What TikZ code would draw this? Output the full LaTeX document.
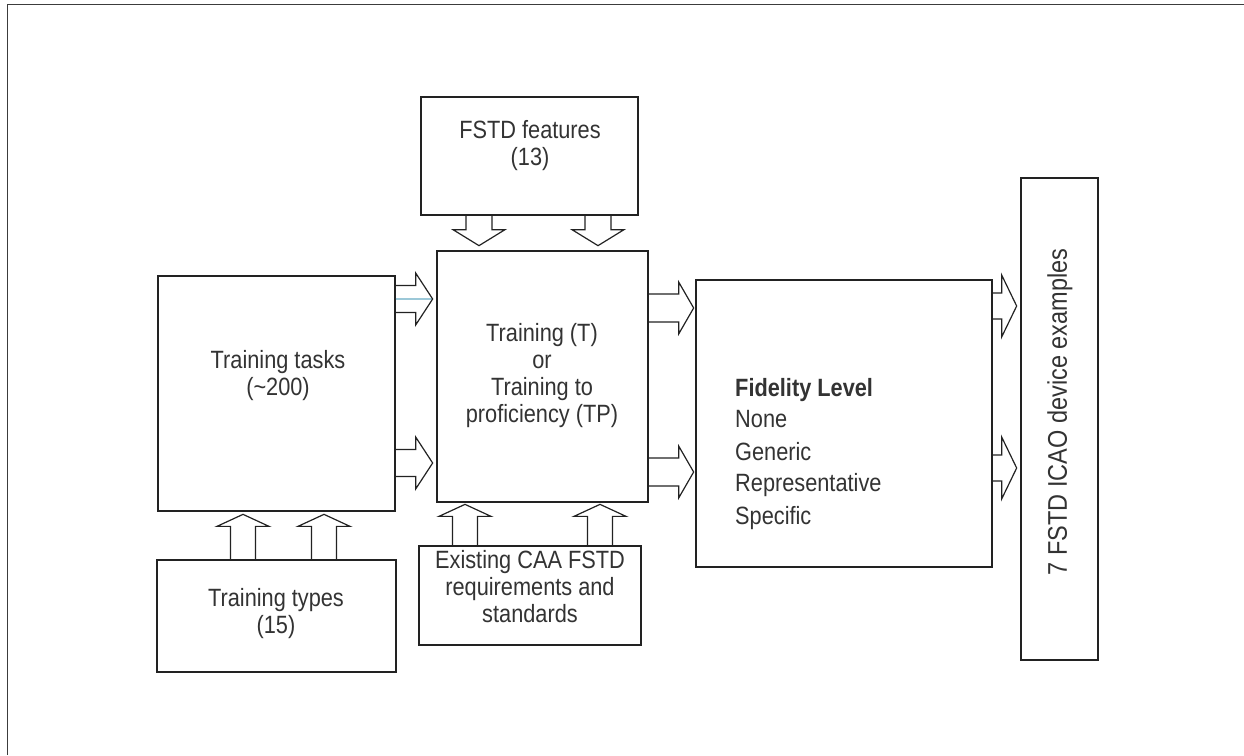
\documentclass[tikz,border=0pt]{standalone}
\usepackage{fontspec}
\setmainfont{Liberation Sans}[FakeStretch=0.87]
\usetikzlibrary{calc}

\definecolor{inkline}{HTML}{222222}
\definecolor{inktext}{HTML}{333333}
\definecolor{framegray}{HTML}{3C3C3C}
\definecolor{paleblue}{HTML}{9CC8D8}

\tikzset{
  box/.style={draw=inkline, line width=1.3pt, fill=white, inner sep=0pt},
  lbl/.style={text=inktext, align=center, inner sep=0pt,
              font=\fontsize{25}{27}\selectfont},
  item/.style={text=inktext, anchor=west, inner sep=0pt,
              font=\fontsize{25}{27}\selectfont},
  barrow/.style={draw=inkline, line width=1.2pt, line join=miter}
}

% hollow block arrow: base point, direction angle, length,
% shaft half-width, head half-width, head length
\newcommand{\blockarrow}[6]{%
  \draw[barrow, shift={(#1)}, rotate=#2]
    (0,#4) -- ({#3-#6},#4) -- ({#3-#6},#5) -- (#3,0)
    -- ({#3-#6},-#5) -- ({#3-#6},-#4) -- (0,-#4);}

\begin{document}
\begin{tikzpicture}[x=1pt, y=-1pt]
\useasboundingbox (0,0) rectangle (1244,755);

% page frame
\draw[framegray, line width=1.3pt] (7.5,755) -- (7.5,4.5) -- (1244,4.5);

% boxes
\node[box, minimum width=217pt, minimum height=118pt] (feat)  at (529.5,156) {};
\node[box, minimum width=211pt, minimum height=251pt] (tp)    at (542.5,376.5) {};
\node[box, minimum width=237pt, minimum height=235pt] (tasks) at (276.5,393.5) {};
\node[box, minimum width=296pt, minimum height=287pt] (fid)   at (844,423.5) {};
\node[box, minimum width=77pt,  minimum height=482pt] (ex)    at (1059.5,419) {};
\node[box, minimum width=239pt, minimum height=112pt] (types) at (276.5,616) {};
\node[box, minimum width=222pt, minimum height=99pt]  (caa)   at (530,595.5) {};

% texts
\node[lbl] (featT)  at (530,146) {FSTD features\\(13)};
\node[lbl] (tasksT) at (278,376) {Training tasks\\(\textasciitilde200)};
\node[lbl] (tpT)    at (542,376) {Training (T)\\or\\Training to\\proficiency (TP)};
\node[lbl] (typesT) at (276,614) {Training types\\(15)};
\node[lbl] (caaT)   at (530,587) {Existing CAA FSTD\\requirements and\\standards};
\node[lbl, rotate=90, font=\fontsize{27}{29}\selectfont] (exT) at (1060,412) {7 FSTD ICAO device examples};

\node[item, font=\fontsize{25}{27}\selectfont\bfseries] (f0) at (735,390) {Fidelity Level};
\node[item] (f1) at (735,419) {None};
\node[item] (f2) at (735,452) {Generic};
\node[item] (f3) at (735,485) {Representative};
\node[item] (f4) at (735,518) {Specific};

% arrow bases
\coordinate (a1) at (tasks.east |- 0,299);
\coordinate (a2) at (tasks.east |- 0,463);
\coordinate (b1) at (tp.east |- 0,308);
\coordinate (b2) at (tp.east |- 0,472);
\coordinate (c1) at (fid.east |- 0,306);
\coordinate (c2) at (fid.east |- 0,468);
\coordinate (d1) at (feat.south -| 479,0);
\coordinate (d2) at (feat.south -| 598,0);
\coordinate (e1) at (types.north -| 243,0);
\coordinate (e2) at (types.north -| 324,0);
\coordinate (g1) at (caa.north -| 465,0);
\coordinate (g2) at (caa.north -| 600,0);

% thin line inside the upper tasks arrow
\draw[paleblue, line width=1.2pt] (a1) -- ++(37,0);

% block arrows
\blockarrow{a1}{0}{37}{13.5}{26}{17}
\blockarrow{a2}{0}{37}{13.5}{26}{17}
\blockarrow{b1}{0}{45}{14}{26}{15}
\blockarrow{b2}{0}{45}{14}{26}{15}
\blockarrow{c1}{0}{24}{13}{31}{15}
\blockarrow{c2}{0}{24}{13}{31}{15}
\blockarrow{d1}{-90}{30}{13}{26}{16}
\blockarrow{d2}{-90}{30}{13}{26}{16}
\blockarrow{e1}{90}{45}{12.5}{26}{12}
\blockarrow{e2}{90}{45}{12.5}{26}{12}
\blockarrow{g1}{90}{41}{12.5}{26}{12}
\blockarrow{g2}{90}{41}{12.5}{26}{12}
\end{tikzpicture}
\end{document}
